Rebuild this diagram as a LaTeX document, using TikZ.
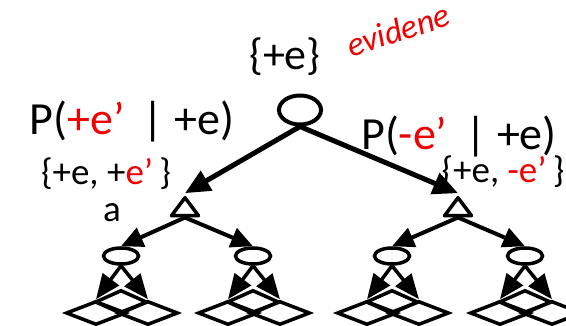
\documentclass[tikz,border=0pt]{standalone}
\usepackage{fontspec}
\setmainfont{Carlito}
\usetikzlibrary{shapes.geometric, arrows.meta, positioning}
\definecolor{evred}{RGB}{240,0,0}

\begin{document}
\begin{tikzpicture}[x=1pt, y=-1pt,
   maxnode/.style={draw, ellipse, line width=4pt, minimum width=42pt, minimum height=29pt, inner sep=0pt},
   smallmax/.style={draw, ellipse, line width=3.5pt, minimum width=35pt, minimum height=16pt, inner sep=0pt},
   chance/.style={draw, isosceles triangle, shape border rotate=90, isosceles triangle stretches,
                  line width=3.5pt, line join=round, minimum width=27pt, minimum height=18pt, inner sep=0pt},
   leaf/.style={draw, diamond, line width=3.5pt, minimum width=60pt, minimum height=24pt, inner sep=0pt},
   midleaf/.style={leaf, minimum width=52pt},
   big/.style={font=\fontsize{46}{46}\selectfont, anchor=base},
   mid/.style={font=\fontsize{37}{37}\selectfont, anchor=base},
   rel/.style={-{Triangle[length=25pt,width=22pt]}, line width=5pt},
   sub/.style={-{Triangle[length=22pt,width=20pt]}, line width=4pt},
   low/.style={-{Triangle[length=25pt,width=20pt]}, line width=3.5pt}]

 \useasboundingbox (0,0) rectangle (566,326);

 % root and its labels
 \node[maxnode] (root) at (300,110) {};
 \node[mid, font=\fontsize{44}{44}\selectfont] (ev) at (285,70) {\{+e\}};
 \node[evred, rotate=18, font=\fontsize{34}{34}\selectfont\itshape] (hand) at (398,30) {evidene};
 \node[big] (pl) at (132,135) {P(\textcolor{evred}{+e’} \,| +e)};
 \node[big] (pr) at (459,150) {P(\textcolor{evred}{-e’} \,| +e)};
 \node[mid] (sl) at (106,185) {\{+e, +\textcolor{evred}{e’}\,\}};
 \node[mid] (sr) at (503,183) {\{+e, \textcolor{evred}{-e’}\,\}};
 \node[mid] (al) at (112,222) {a};

 % chance nodes
 \node[chance] (cl) at (185,209) {};
 \node[chance] (cr) at (458,209) {};

 % second layer
 \node[smallmax] (ma) at (121,256) {};
 \node[smallmax] (mb) at (253,256) {};
 \node[smallmax] (mc) at (392,256) {};
 \node[smallmax] (md) at (525,256) {};

 % cut-off leaves
 \node[midleaf] (a3) at (121,302) {};
 \node[leaf] (a1) at (96,313) {};
 \node[leaf] (a2) at (148,313) {};
 \node[midleaf] (b3) at (253,302) {};
 \node[leaf] (b1) at (228,313) {};
 \node[leaf] (b2) at (280,313) {};
 \node[midleaf] (c3) at (392,302) {};
 \node[leaf] (c1) at (367,313) {};
 \node[leaf] (c2) at (419,313) {};
 \node[midleaf] (d3) at (525,302) {};
 \node[leaf] (d1) at (500,313) {};
 \node[leaf] (d2) at (552,313) {};

 \draw[rel] (root.south) -- (cl.apex);
 \draw[rel] (root.south) -- (cr.apex);
 \draw[sub] (cl.south) -- (ma.north);
 \draw[sub] (cl.south) -- (mb.north);
 \draw[sub] (cr.south) -- (mc.north);
 \draw[sub] (cr.south) -- (md.north);

 \draw[low] (ma.south) -- (a1.north);
 \draw[low] (ma.south) -- (a2.north);
 \draw[low] (mb.south) -- (b1.north);
 \draw[low] (mb.south) -- (b2.north);
 \draw[low] (mc.south) -- (c1.north);
 \draw[low] (mc.south) -- (c2.north);
 \draw[low] (md.south) -- (d1.north);
 \draw[low] (md.south) -- (d2.north);
\end{tikzpicture}
\end{document}
